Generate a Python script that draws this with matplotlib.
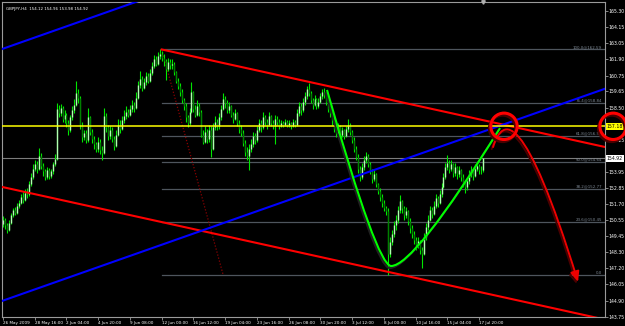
import numpy as np
import matplotlib.pyplot as plt
import matplotlib.patheffects as pe
from matplotlib.path import Path
from matplotlib.patches import PathPatch, FancyArrowPatch

# GBPJPY H4 candles (bar 0 = 26 May 2009 00:00)
opens = [
    150.30, 150.60, 150.20, 149.90, 150.40, 150.90, 151.30, 151.10, 151.60, 151.80, 152.20, 152.00, 152.50, 152.40, 153.10, 153.60,
    154.20, 154.50, 154.20, 155.10, 154.40, 154.00, 153.60, 154.10, 153.70, 154.00, 154.50, 154.90, 158.40, 158.10, 158.50, 157.70,
    158.00, 157.40, 156.90, 157.80, 158.30, 158.70, 159.50, 159.20, 157.30, 156.40, 156.70, 156.20, 157.80, 156.80, 156.30, 155.90,
    155.60, 156.10, 155.50, 155.30, 157.90, 157.10, 156.50, 156.90, 156.30, 155.80, 156.60, 157.30, 157.00, 157.60, 157.90, 158.20,
    158.00, 158.40, 158.70, 158.50, 159.20, 160.10, 160.50, 159.90, 160.30, 160.70, 160.40, 160.90, 161.40, 161.90, 161.60, 162.10,
    162.30, 162.00, 161.80, 161.20, 161.70, 161.50, 161.60, 161.00, 160.40, 160.00, 159.60, 159.00, 158.60, 157.80, 157.40, 158.20,
    159.60, 158.40, 158.00, 158.60, 158.20, 156.60, 156.10, 156.80, 156.30, 156.90, 155.60, 157.10, 157.50, 157.20, 157.80, 158.40,
    159.10, 158.80, 158.30, 158.60, 158.00, 157.70, 158.10, 157.40, 157.00, 156.70, 156.00, 155.40, 155.10, 155.60, 155.90, 156.50,
    156.20, 156.90, 157.40, 157.10, 157.80, 157.50, 157.30, 157.90, 157.40, 157.20, 157.70, 157.50, 157.20, 157.40, 157.30, 157.50,
    157.30, 157.40, 157.20, 157.50, 157.30, 158.10, 158.60, 158.30, 158.90, 159.30, 159.80, 159.50, 159.00, 158.70, 159.10, 158.60,
    158.90, 159.30, 159.60, 159.40, 158.90, 158.40, 158.10, 157.60, 157.00, 156.70, 157.20, 156.60, 156.90, 156.50, 157.00, 157.30,
    156.80, 156.20, 155.60, 155.00, 154.20, 153.60, 154.30, 154.80, 155.10, 154.50, 154.00, 153.50, 153.80, 153.10, 152.60, 152.20,
    151.80, 151.40, 151.20, 148.20, 149.00, 149.60, 150.20, 150.60, 151.30, 151.90, 151.40, 150.90, 151.20, 150.50, 150.00, 149.60,
    149.20, 148.80, 149.10, 148.50, 148.20, 149.40, 150.10, 150.60, 151.30, 151.00, 151.60, 152.10, 151.80, 152.40, 152.90, 153.60,
    154.30, 154.60, 154.20, 154.50, 153.90, 154.30, 153.80, 154.10, 153.60, 153.20, 152.90, 153.30, 153.80, 154.10, 153.70, 154.20,
    154.40, 154.10, 154.12,
]
highs = [
    150.85, 150.75, 150.35, 150.55, 151.05, 151.45, 151.50, 151.75, 152.00, 152.40, 152.55, 152.75, 152.85, 153.30, 153.90, 154.50,
    154.80, 154.75, 155.65, 155.30, 154.60, 154.20, 154.30, 154.25, 154.20, 154.70, 155.20, 158.80, 158.70, 158.75, 158.60, 158.30,
    158.10, 157.60, 158.00, 158.60, 159.10, 160.40, 159.80, 159.30, 157.50, 156.95, 156.90, 158.50, 157.90, 157.00, 156.50, 156.10,
    156.40, 156.30, 155.80, 158.50, 158.10, 157.30, 157.20, 157.10, 156.50, 156.90, 157.70, 157.60, 157.90, 158.30, 158.60, 158.40,
    158.70, 159.00, 158.90, 159.60, 160.40, 161.10, 160.70, 160.60, 161.00, 160.90, 161.20, 161.70, 162.20, 162.10, 162.40, 162.59,
    162.50, 162.30, 161.90, 162.00, 161.90, 161.95, 161.70, 161.10, 160.60, 160.20, 159.80, 159.20, 158.80, 158.00, 158.50, 160.30,
    159.70, 158.70, 159.00, 158.80, 158.30, 156.90, 157.20, 157.00, 157.30, 157.20, 157.40, 157.90, 157.70, 158.10, 158.70, 159.50,
    159.30, 159.00, 158.90, 158.70, 158.20, 158.40, 158.20, 157.60, 157.30, 156.90, 156.20, 155.70, 155.90, 156.30, 156.80, 156.70,
    157.20, 157.70, 157.60, 158.20, 158.00, 157.70, 158.20, 158.00, 157.60, 158.00, 157.90, 157.70, 157.60, 157.55, 157.70, 157.60,
    157.65, 157.50, 157.70, 157.60, 158.40, 158.90, 158.80, 159.20, 159.60, 160.00, 160.20, 159.70, 159.20, 159.40, 159.20, 159.20,
    159.50, 159.80, 159.90, 159.50, 159.00, 158.60, 158.20, 157.80, 157.20, 157.40, 157.30, 157.10, 157.00, 157.20, 157.70, 157.40,
    156.90, 156.40, 155.80, 155.20, 154.40, 154.60, 155.10, 155.40, 155.20, 154.70, 154.20, 154.10, 153.90, 153.20, 152.80, 152.40,
    152.00, 151.60, 151.40, 149.40, 149.90, 150.50, 150.90, 151.60, 152.35, 152.00, 151.60, 151.50, 151.30, 150.70, 150.20, 149.80,
    149.40, 149.40, 149.20, 148.70, 149.70, 150.40, 150.90, 151.60, 151.50, 151.90, 152.40, 152.30, 152.70, 153.20, 153.90, 154.60,
    155.15, 154.80, 154.80, 154.60, 154.60, 154.40, 154.40, 154.20, 153.80, 153.40, 153.60, 154.10, 154.40, 154.20, 154.50, 154.70,
    154.50, 154.40, 154.96,
]
lows = [
    150.10, 149.95, 149.65, 149.80, 150.30, 150.80, 150.95, 151.00, 151.45, 151.70, 151.80, 151.90, 152.15, 152.30, 152.95, 153.50,
    154.00, 153.90, 154.10, 154.20, 153.70, 153.40, 153.45, 153.50, 153.55, 153.85, 154.40, 154.80, 157.80, 157.90, 157.50, 157.40,
    157.10, 156.60, 156.80, 157.60, 158.10, 158.60, 158.80, 157.00, 156.10, 156.20, 156.00, 156.10, 156.60, 156.00, 155.60, 155.40,
    155.40, 155.20, 154.80, 155.20, 156.80, 156.20, 156.30, 156.10, 155.50, 155.70, 156.50, 156.70, 156.90, 157.40, 157.70, 157.80,
    157.90, 158.20, 158.20, 158.40, 159.10, 159.90, 159.70, 159.80, 160.10, 160.20, 160.30, 160.80, 161.30, 161.40, 161.50, 161.90,
    161.80, 161.40, 160.44, 161.10, 161.20, 161.20, 160.80, 160.20, 159.80, 159.30, 158.80, 158.30, 157.50, 157.10, 157.30, 158.10,
    158.20, 157.80, 157.90, 157.90, 156.40, 155.90, 156.00, 156.00, 156.10, 155.00, 155.50, 156.90, 156.90, 157.00, 157.60, 158.30,
    158.50, 158.10, 158.10, 157.80, 157.40, 157.60, 157.20, 156.70, 156.50, 155.80, 155.10, 154.80, 154.10, 155.40, 155.70, 155.90,
    156.10, 156.80, 156.80, 157.00, 157.30, 157.00, 157.20, 157.20, 157.00, 155.90, 157.30, 157.00, 157.10, 157.10, 157.20, 157.10,
    157.15, 157.00, 157.10, 157.10, 157.20, 157.90, 158.00, 158.20, 158.70, 159.10, 159.30, 158.80, 158.40, 158.60, 158.40, 158.50,
    158.80, 159.10, 159.20, 158.70, 158.20, 157.80, 157.30, 156.80, 156.40, 156.60, 156.40, 156.40, 156.30, 156.40, 156.80, 156.60,
    156.00, 155.40, 154.80, 153.90, 153.30, 153.50, 154.10, 154.60, 154.30, 153.80, 153.20, 153.30, 152.90, 152.40, 151.90, 151.50,
    151.20, 150.90, 146.70, 148.00, 148.80, 149.40, 149.90, 150.40, 151.10, 151.10, 150.60, 150.70, 150.20, 149.70, 149.30, 148.90,
    148.50, 148.60, 148.20, 147.20, 148.10, 149.20, 149.90, 150.50, 150.70, 150.90, 151.40, 151.50, 151.70, 152.20, 152.80, 153.50,
    154.10, 153.90, 154.00, 153.60, 153.70, 153.50, 153.60, 153.30, 152.90, 152.50, 152.70, 153.10, 153.60, 153.40, 153.60, 154.00,
    153.80, 153.80, 153.98,
]
closes = [
    150.60, 150.20, 149.90, 150.40, 150.90, 151.30, 151.10, 151.60, 151.80, 152.20, 152.00, 152.50, 152.40, 153.10, 153.60, 154.20,
    154.50, 154.20, 155.10, 154.40, 154.00, 153.60, 154.10, 153.70, 154.00, 154.50, 154.90, 158.40, 158.10, 158.50, 157.70, 158.00,
    157.40, 156.90, 157.80, 158.30, 158.70, 159.50, 159.20, 157.30, 156.40, 156.70, 156.20, 157.80, 156.80, 156.30, 155.90, 155.60,
    156.10, 155.50, 155.30, 157.90, 157.10, 156.50, 156.90, 156.30, 155.80, 156.60, 157.30, 157.00, 157.60, 157.90, 158.20, 158.00,
    158.40, 158.70, 158.50, 159.20, 160.10, 160.50, 159.90, 160.30, 160.70, 160.40, 160.90, 161.40, 161.90, 161.60, 162.10, 162.30,
    162.00, 161.80, 161.20, 161.70, 161.50, 161.60, 161.00, 160.40, 160.00, 159.60, 159.00, 158.60, 157.80, 157.40, 158.20, 159.60,
    158.40, 158.00, 158.60, 158.20, 156.60, 156.10, 156.80, 156.30, 156.90, 155.60, 157.10, 157.50, 157.20, 157.80, 158.40, 159.10,
    158.80, 158.30, 158.60, 158.00, 157.70, 158.10, 157.40, 157.00, 156.70, 156.00, 155.40, 155.10, 155.60, 155.90, 156.50, 156.20,
    156.90, 157.40, 157.10, 157.80, 157.50, 157.30, 157.90, 157.40, 157.20, 157.70, 157.50, 157.20, 157.40, 157.30, 157.50, 157.30,
    157.40, 157.20, 157.50, 157.30, 158.10, 158.60, 158.30, 158.90, 159.30, 159.80, 159.50, 159.00, 158.70, 159.10, 158.60, 158.90,
    159.30, 159.60, 159.40, 158.90, 158.40, 158.10, 157.60, 157.00, 156.70, 157.20, 156.60, 156.90, 156.50, 157.00, 157.30, 156.80,
    156.20, 155.60, 155.00, 154.20, 153.60, 154.30, 154.80, 155.10, 154.50, 154.00, 153.50, 153.80, 153.10, 152.60, 152.20, 151.80,
    151.40, 151.20, 148.20, 149.00, 149.60, 150.20, 150.60, 151.30, 151.90, 151.40, 150.90, 151.20, 150.50, 150.00, 149.60, 149.20,
    148.80, 149.10, 148.50, 148.20, 149.40, 150.10, 150.60, 151.30, 151.00, 151.60, 152.10, 151.80, 152.40, 152.90, 153.60, 154.30,
    154.60, 154.20, 154.50, 153.90, 154.30, 153.80, 154.10, 153.60, 153.20, 152.90, 153.30, 153.80, 154.10, 153.70, 154.20, 154.40,
    154.10, 154.12, 154.92,
]

time_labels = ['26 May 2009', '28 May 16:00', '2 Jun 04:00', '4 Jun 20:00', '9 Jun 08:00',
               '12 Jun 00:00', '16 Jun 12:00', '19 Jun 04:00', '23 Jun 16:00', '26 Jun 08:00',
               '30 Jun 20:00', '3 Jul 12:00', '8 Jul 00:00', '10 Jul 16:00', '15 Jul 04:00',
               '17 Jul 20:00']
price_ticks = [165.30, 164.15, 163.05, 161.90, 160.75, 159.65, 158.50, 156.25, 153.95,
               152.85, 151.70, 150.55, 149.45, 148.30, 147.20, 146.05, 144.90, 143.75]

bid = 154.92
level = 157.18

# fibonacci from the swing high to the swing low
fib_pcts = [100.0, 76.4, 61.8, 50.0, 38.2, 23.6, 0.0]
fib_high, fib_low = 162.59, 146.70
fib_high_bar, fib_low_bar = 80, 111

# channels: (start bar, start price), slope per bar, width
red_start = (80, 162.59)
red_low_start = (-0.5, 152.91)
red_slope = -0.03074
blue_start = (-0.5, 144.88)
blue_slope = 0.04918
blue_width = 17.74

# hand drawn annotations (bar, price)
green_pts = [(163.3, 159.74), (188.5, 147.34), (195.6, 147.34), (207.2, 147.34), (250.5, 157.06)]
arrow_pts = [(247.0, 155.72), (252.0, 157.98), (263.1, 158.33), (289.8, 146.22)]
circle_pts = [(252.5, 157.18), (307.5, 157.18)]

x0, x1 = -0.5, 303.4
y0, y1 = 143.75, 165.934

fig = plt.figure(figsize=(6.25, 3.26), dpi=100, facecolor='black')
ax = fig.add_axes([2 / 625, 9 / 326, 603 / 625, 315 / 326], facecolor='black')
ax.set_xlim(x0, x1)
ax.set_ylim(y0, y1)

bars = np.arange(len(closes))
o = np.array(opens)
c = np.array(closes)
up = c >= o
body_cols = np.where(up, '#b0ffb0', '#008000')
ax.vlines(bars, lows, highs, colors='#00e600', lw=0.8, zorder=2)
ax.vlines(bars, np.minimum(o, c), np.maximum(o, c), colors=body_cols, lw=1.0, zorder=2)

# bid line and fib levels
ax.axhline(bid, color='#7c7c7c', lw=0.8, zorder=1)
for p in fib_pcts:
    price = fib_low + (fib_high - fib_low) * p / 100
    ax.plot([fib_high_bar, x1], [price, price], color='#4e555d', lw=0.9, zorder=1)
    txt = '0.0' if p == 0 else f'{p:.1f}@{price:.2f}'
    ax.text(x1 - 1.5, price + 0.04, txt, color='#7d8894', fontsize=2.9, ha='right', va='bottom', zorder=1)
ax.plot([fib_high_bar, fib_low_bar], [fib_high, fib_low], color='#8b0000', lw=0.9, ls=(0, (1, 1.5)), zorder=1)

# channels
ax.plot([red_start[0], x1], [red_start[1], red_start[1] + red_slope * (x1 - red_start[0])],
        color='#ff0000', lw=1.5, zorder=3)
ax.plot([x0, x1], [red_low_start[1], red_low_start[1] + red_slope * (x1 - x0)], color='#ff0000', lw=1.5, zorder=3)
for off in [0, blue_width]:
    ax.plot([x0, x1], [blue_start[1] + off, blue_start[1] + off + blue_slope * (x1 - x0)],
            color='#0000ff', lw=1.5, zorder=3)
ax.axhline(level, color='#ffff00', lw=1.1, zorder=3)

# green curve
shadow = [pe.SimpleLineShadow(offset=(-1, -1.5), shadow_color='#202020', alpha=1), pe.Normal()]
gpath = Path(green_pts, [Path.MOVETO, Path.CURVE3, Path.CURVE3, Path.CURVE3, Path.CURVE3])
ax.add_patch(PathPatch(gpath, fill=False, ec='#00ff00', lw=1.5, zorder=4, path_effects=shadow))

# red forecast arrow
apath = Path(arrow_pts, [Path.MOVETO, Path.CURVE4, Path.CURVE4, Path.CURVE4])
red_shadow = [pe.SimpleLineShadow(offset=(-1, -1.5), shadow_color='#4a0000', alpha=1), pe.Normal()]
ax.add_patch(FancyArrowPatch(path=apath, arrowstyle='-|>,head_length=6,head_width=2.6',
                             color='#ee0000', lw=1.4, mutation_scale=1, zorder=4, path_effects=red_shadow))

for cx, cy in circle_pts:
    ax.plot(cx, cy, 'o', ms=19, mfc='none', mec='#ff0000', mew=2.2, clip_on=False, zorder=6,
            path_effects=red_shadow)

ax.plot(242, y1, marker='v', color='#b0b0b0', ms=2.5, clip_on=False, zorder=6)

# axes
for s in ax.spines.values():
    s.set_color('#9a9a9a')
    s.set_linewidth(0.8)
ax.yaxis.tick_right()
ax.set_yticks(price_ticks)
ax.set_yticklabels([f'{t:.2f}' for t in price_ticks])
ax.set_xticks(np.arange(len(time_labels)) * 16)
ax.set_xticklabels(time_labels)
for lbl in ax.get_xticklabels():
    lbl.set_horizontalalignment('left')
ax.tick_params(axis='both', colors='#9a9a9a', labelcolor='white', length=2, width=0.6, pad=0.8)
ax.tick_params(axis='x', labelsize=3.0)
ax.tick_params(axis='y', labelsize=3.3)

ytr = ax.get_yaxis_transform()
ax.text(1.003, level, f'{level:.2f}', transform=ytr, fontsize=3.3, color='black', va='center', ha='left',
        bbox=dict(boxstyle='square,pad=0.2', fc='#ffff00', ec='none'), zorder=5)
ax.text(1.003, bid, f'{bid:.2f}', transform=ytr, fontsize=3.3, color='black', va='center', ha='left',
        bbox=dict(boxstyle='square,pad=0.2', fc='white', ec='none'), zorder=5)

ax.text(0.006, 0.985, 'GBPJPY,H4  154.12 154.96 153.98 154.92', transform=ax.transAxes,
        color='white', fontsize=2.9, va='top', ha='left')

fig.savefig('out.png', dpi=100, facecolor='black')
